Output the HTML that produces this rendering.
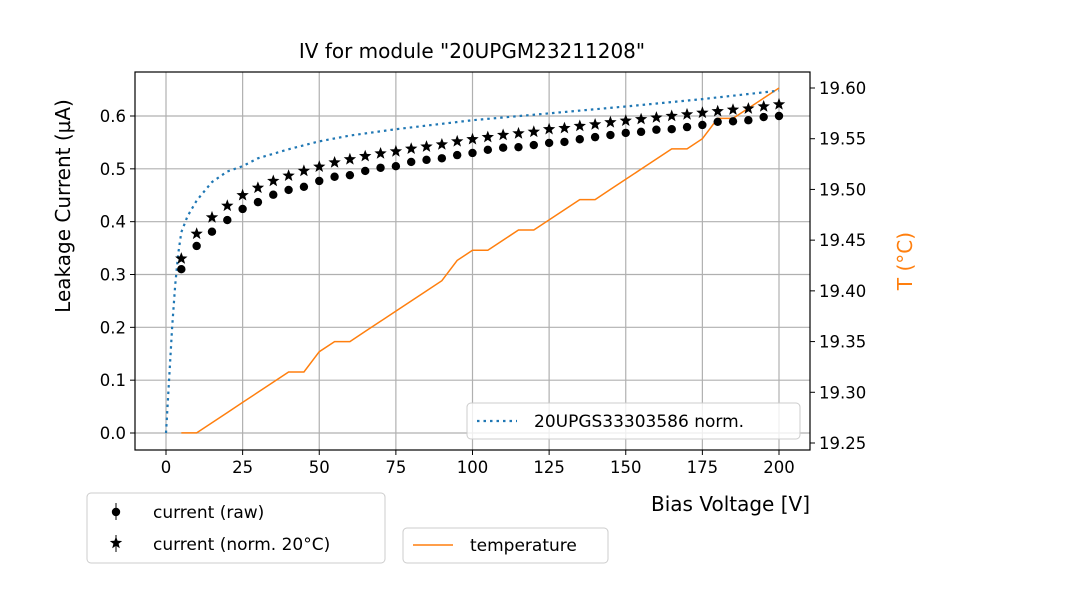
<!DOCTYPE html>
<html><head><meta charset="utf-8"><style>body{margin:0;background:#fff}svg{display:block;font-family:"DejaVu Sans","Liberation Sans",sans-serif}</style></head>
<body>
<svg id="c" width="1080" height="600"></svg>
<script>
const voltages=[5,10,15,20,25,30,35,40,45,50,55,60,65,70,75,80,85,90,95,100,105,110,115,120,125,130,135,140,145,150,155,160,165,170,175,180,185,190,195,200];
const currentRaw=[0.31,0.354,0.381,0.403,0.424,0.437,0.451,0.46,0.466,0.477,0.485,0.488,0.496,0.502,0.505,0.513,0.517,0.52,0.526,0.53,0.536,0.54,0.541,0.545,0.549,0.551,0.556,0.56,0.564,0.568,0.57,0.574,0.575,0.579,0.583,0.589,0.59,0.592,0.598,0.6];
const currentNorm=[0.33,0.377,0.408,0.43,0.45,0.464,0.477,0.487,0.496,0.504,0.512,0.518,0.524,0.529,0.533,0.538,0.542,0.546,0.552,0.556,0.56,0.564,0.567,0.57,0.575,0.577,0.581,0.584,0.588,0.591,0.594,0.597,0.6,0.603,0.606,0.609,0.612,0.614,0.618,0.622];
const temperature=[19.26,19.26,19.27,19.28,19.29,19.30,19.31,19.32,19.32,19.34,19.35,19.35,19.36,19.37,19.38,19.39,19.40,19.41,19.43,19.44,19.44,19.45,19.46,19.46,19.47,19.48,19.49,19.49,19.50,19.51,19.52,19.53,19.54,19.54,19.55,19.57,19.57,19.58,19.59,19.60];
const refV=[0,1,2,3,4,5,7,10,15,20,25,30,40,50,60,75,100,125,150,175,200];
const refI=[0,0.1,0.2,0.28,0.34,0.38,0.41,0.44,0.475,0.495,0.505,0.52,0.537,0.552,0.563,0.575,0.592,0.605,0.618,0.632,0.648];
const xTicks=[0,25,50,75,100,125,150,175,200];
const yTicks=[0,0.1,0.2,0.3,0.4,0.5,0.6];
const tTicks=[19.25,19.30,19.35,19.40,19.45,19.50,19.55,19.60];

const svg=document.getElementById('c');const NS='http://www.w3.org/2000/svg';
const L=135,R=810,T=72,B=450;
const X=v=>166+v*(779-166)/200;
const Y=v=>433-v*(433-116)/0.6;
const YT=t=>443-(t-19.25)*(443-88)/0.35;
function el(tag,at,parent){const e=document.createElementNS(NS,tag);for(const k in at)e.setAttribute(k,at[k]);(parent||svg).appendChild(e);return e;}
function txt(s,at){const e=el('text',at);e.textContent=s;return e;}

let g=el('g',{});
xTicks.forEach(v=>el('line',{x1:X(v),x2:X(v),y1:T,y2:B,stroke:'#b0b0b0','stroke-width':1.2},g));
yTicks.forEach(v=>el('line',{x1:L,x2:R,y1:Y(v),y2:Y(v),stroke:'#b0b0b0','stroke-width':1.2},g));

let tp=el('polyline',{points:voltages.map((v,i)=>X(v)+','+YT(temperature[i])).join(' '),fill:'none',stroke:'#ff7f0e','stroke-width':1.5});

let rp=el('polyline',{points:refV.map((v,i)=>X(v)+','+Y(refI[i])).join(' '),fill:'none',stroke:'#1f77b4','stroke-width':2.2,'stroke-dasharray':'2.5,4'});

voltages.forEach((v,i)=>{const c=el('circle',{cx:X(v),cy:Y(currentRaw[i]),r:4.2,fill:'#000'});
});
function star(cx,cy,r){let p=[];for(let k=0;k<10;k++){const a=-Math.PI/2+k*Math.PI/5;const rr=k%2?r*0.42:r;p.push((cx+rr*Math.cos(a)).toFixed(1)+','+(cy+rr*Math.sin(a)).toFixed(1));}return p.join(' ');}
voltages.forEach((v,i)=>{const s=el('polygon',{points:star(X(v),Y(currentNorm[i]),6.5),fill:'#000'});
});

el('rect',{x:L,y:T,width:R-L,height:B-T,fill:'none',stroke:'#000','stroke-width':1.2});
xTicks.forEach(v=>{el('line',{x1:X(v),x2:X(v),y1:B,y2:B+5,stroke:'#000'});txt(String(v),{x:X(v),y:B+23,'text-anchor':'middle','font-size':16.5});});
yTicks.forEach(v=>{el('line',{x1:L-5,x2:L,y1:Y(v),y2:Y(v),stroke:'#000'});txt(v.toFixed(1),{x:L-9,y:Y(v)+6,'text-anchor':'end','font-size':16.5});});
tTicks.forEach(t=>{el('line',{x1:R,x2:R+5,y1:YT(t),y2:YT(t),stroke:'#000'});txt(t.toFixed(2),{x:R+9,y:YT(t)+6,'font-size':16.5});});

let t1=txt('IV for module "20UPGM23211208"',{x:472,y:58,'text-anchor':'middle','font-size':20});
let t2=txt('Bias Voltage [V]',{x:810,y:511,'text-anchor':'end','font-size':20});
let t3=txt('Leakage Current (µA)',{x:0,y:0,'text-anchor':'middle','font-size':20,transform:'translate(70,206) rotate(-90)'});
let t5=el('text',{x:0,y:0,'text-anchor':'middle','font-size':20,fill:'#ff7f0e',transform:'translate(912,261) rotate(-90)'});t5.textContent='T (°C)';

function box(x,y,w,h,name){const r=el('rect',{x,y,width:w,height:h,rx:4,fill:'#fff','fill-opacity':0.8,stroke:'#ccc'});}
box(467,403,333,36,'legend-reference');
el('line',{x1:477,x2:517,y1:421,y2:421,stroke:'#1f77b4','stroke-width':2.2,'stroke-dasharray':'2.5,4'});
txt('20UPGS33303586 norm.',{x:534,y:427,'font-size':17});
box(87,493,298,70,'legend-current');
el('line',{x1:116,x2:116,y1:503,y2:520,stroke:'#000'});el('circle',{cx:116,cy:512,r:4.2,fill:'#000'});
txt('current (raw)',{x:153,y:518,'font-size':17});
el('line',{x1:116,x2:116,y1:535,y2:552,stroke:'#000'});el('polygon',{points:star(116,543,6.5),fill:'#000'});
txt('current (norm. 20°C)',{x:153,y:550,'font-size':17});
box(403,528,205,35,'legend-temperature');
el('line',{x1:413,x2:453,y1:545,y2:545,stroke:'#ff7f0e','stroke-width':1.5});
txt('temperature',{x:470,y:551,'font-size':17});
</script>
</body></html>
